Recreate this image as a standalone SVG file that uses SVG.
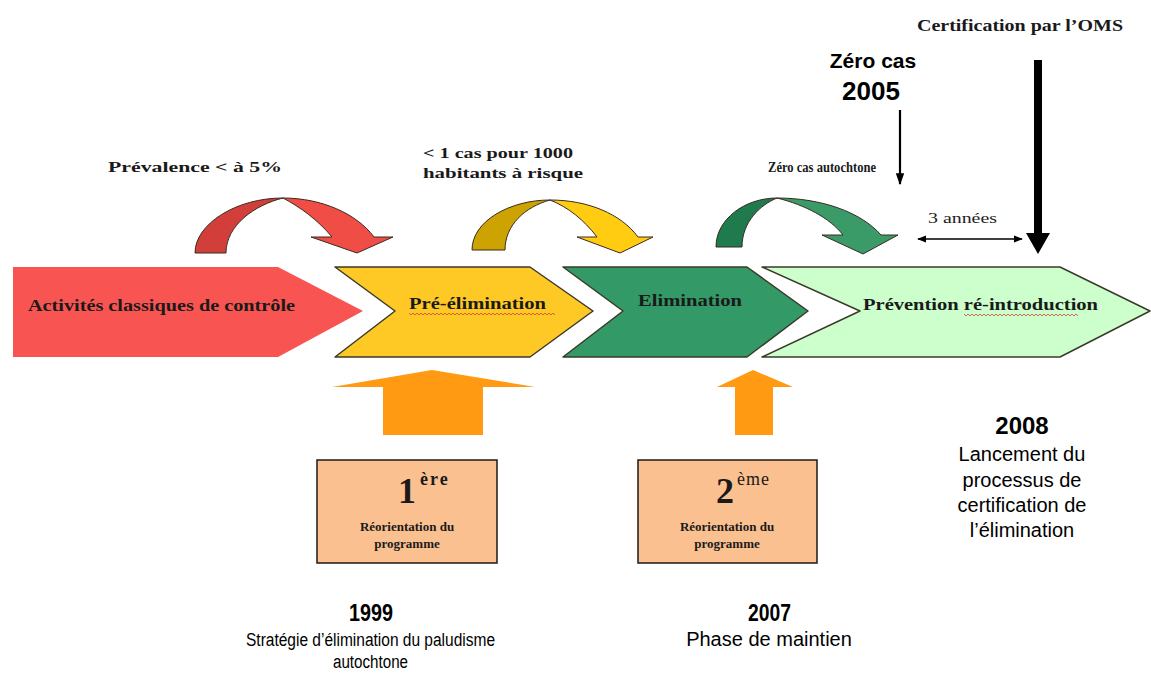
<svg xmlns="http://www.w3.org/2000/svg" width="1151" height="681" viewBox="0 0 1151 681">
<defs>
<style>
.lbl{font-family:"Liberation Serif","Times New Roman",serif;font-weight:bold;fill:#1a1a1a}
.sans{font-family:"Liberation Sans",Arial,sans-serif;fill:#000}
.b{font-weight:bold}
.edge{stroke:#3a3a2a;stroke-width:1.5;stroke-linejoin:round}
.curve{stroke:#3a2a20;stroke-width:1;stroke-linejoin:round}
.box{fill:#fac090;stroke:#1a1a1a;stroke-width:1.5}
.up{fill:#ff9a12}
.wavy{fill:none;stroke:#d04040;stroke-width:0.8}
</style>
<marker id="ah" viewBox="0 0 10 10" refX="9" refY="5" markerWidth="9" markerHeight="9" orient="auto-start-reverse" markerUnits="userSpaceOnUse">
<path d="M0,1 L10,5 L0,9 Z" fill="#000"/>
</marker>
<marker id="ahb" viewBox="0 0 10 10" refX="9" refY="5" markerWidth="12" markerHeight="12" orient="auto" markerUnits="userSpaceOnUse">
<path d="M0,1.5 L10,5 L0,8.5 Z" fill="#000"/>
</marker>
</defs>
<rect width="1151" height="681" fill="#fff"/>

<g id="phase-controle">
<path d="M13,267 L278,267 L363,311 L278,357 L13,357 Z" fill="#f75452"/>
<text class="lbl" x="28" y="311" font-size="17" textLength="267" lengthAdjust="spacingAndGlyphs">Activités classiques de contrôle</text>
</g>
<g id="phase-pre-elimination">
<path class="edge" d="M335,267 L530,267 L593,311 L530,357 L335,357 L395,311 Z" fill="#ffc925"/>
<text class="lbl" x="409" y="309" font-size="17" textLength="137" lengthAdjust="spacingAndGlyphs">Pré-élimination</text>
<path class="wavy" d="M409,313 l2,2 l2,-2 l2,2 l2,-2 l2,2 l2,-2 l2,2 l2,-2 l2,2 l2,-2 l2,2 l2,-2 l2,2 l2,-2 l2,2 l2,-2 l2,2 l2,-2 l2,2 l2,-2 l2,2 l2,-2 l2,2 l2,-2 l2,2 l2,-2 l2,2 l2,-2 l2,2 l2,-2 l2,2 l2,-2 l2,2 l2,-2 l2,2 l2,-2 l2,2 l2,-2 l2,2 l2,-2 l2,2 l2,-2 l2,2 l2,-2 l2,2 l2,-2 l2,2 l2,-2 l2,2 l2,-2 l2,2 l2,-2 l2,2 l2,-2 l2,2 l2,-2 l2,2 l2,-2 l2,2 l2,-2 l2,2 l2,-2 l2,2 l2,-2 l2,2 l2,-2 l2,2 l2,-2 l2,2 l2,-2 l2,2 l2,-2 l2,2"/>
</g>
<g id="phase-elimination">
<path class="edge" d="M563,267 L747,267 L808,311 L747,357 L563,357 L623,311 Z" fill="#339966"/>
<text class="lbl" x="638" y="306" font-size="17" textLength="104" lengthAdjust="spacingAndGlyphs">Elimination</text>
</g>
<g id="phase-prevention">
<path class="edge" d="M762,267 L1060,267 L1150,311 L1060,357 L762,357 L860,311 Z" fill="#ccffcc"/>
<text class="lbl" x="863" y="310" font-size="17" textLength="235" lengthAdjust="spacingAndGlyphs">Prévention ré-introduction</text>
<path class="wavy" d="M964,314 l2,2 l2,-2 l2,2 l2,-2 l2,2 l2,-2 l2,2 l2,-2 l2,2 l2,-2 l2,2 l2,-2 l2,2 l2,-2 l2,2 l2,-2 l2,2 l2,-2 l2,2 l2,-2 l2,2 l2,-2 l2,2 l2,-2 l2,2 l2,-2 l2,2 l2,-2 l2,2 l2,-2 l2,2 l2,-2 l2,2 l2,-2 l2,2 l2,-2 l2,2 l2,-2 l2,2 l2,-2 l2,2 l2,-2 l2,2 l2,-2 l2,2 l2,-2 l2,2 l2,-2 l2,2 l2,-2 l2,2 l2,-2 l2,2 l2,-2 l2,2 l2,-2 l2,2"/>
</g>

<g id="curve-red">
<path class="curve" d="M195,253 C195,224 236,198 283,198 C255,205 226,225 226,253 Z" fill="#d23f3a"/>
<path class="curve" d="M283,198 C322,198 357,214 374,237 L393,237 L357,253 L311,237 L332,237 C318,220 300,207 283,198 Z" fill="#ef4d45"/>
<text class="lbl" x="108" y="172" font-size="14" textLength="174" lengthAdjust="spacingAndGlyphs">Prévalence &lt; à 5%</text>
</g>
<g id="curve-yellow">
<path class="curve" d="M472,250 C472,221 510,200 550,200 C525,207 505,225 505,250 Z" fill="#cca300"/>
<path class="curve" d="M550,200 C588,200 621,214 638,237 L653,237 L620,253 L577,237 L597,237 C584,220 568,207 550,200 Z" fill="#ffcc11"/>
<text class="lbl" x="423" y="158" font-size="14" textLength="150" lengthAdjust="spacingAndGlyphs">&lt; 1 cas pour 1000</text>
<text class="lbl" x="423" y="178" font-size="14" textLength="160" lengthAdjust="spacingAndGlyphs">habitants à risque</text>
</g>
<g id="curve-green">
<path class="curve" d="M716,247 C716,219 745,198 777,198 C760,205 742,222 742,247 Z" fill="#1f7a4d"/>
<path class="curve" d="M777,198 C821,198 861,212 881,235 L898,235 L863,254 L822,235 L843,235 C830,218 805,205 777,198 Z" fill="#3a9a68"/>
<text class="lbl" x="768" y="172" font-size="15" textLength="108" lengthAdjust="spacingAndGlyphs">Zéro cas autochtone</text>
</g>

<g id="zero-cas">
<text class="sans b" x="873" y="68" font-size="21" text-anchor="middle">Zéro cas</text>
<text class="sans b" x="871" y="100" font-size="26" text-anchor="middle">2005</text>
</g>
<g id="certification">
<text class="lbl" x="917" y="31" font-size="17" textLength="206" lengthAdjust="spacingAndGlyphs">Certification par l’OMS</text>
</g>
<g id="trois-annees">
<text x="928" y="223" font-family="Liberation Serif, Times New Roman, serif" font-size="15" fill="#222" textLength="69" lengthAdjust="spacingAndGlyphs">3 années</text>
</g>

<g id="connectors">
<line x1="900" y1="110" x2="900" y2="184" stroke="#000" stroke-width="2.2" marker-end="url(#ahb)"/>
<line x1="918" y1="239" x2="1022" y2="239" stroke="#000" stroke-width="1.6" marker-start="url(#ah)" marker-end="url(#ah)"/>
<path d="M1034,60 L1042,60 L1042,233 L1050,233 L1038,254 L1026,233 L1034,233 Z" fill="#000"/>
<path class="up" d="M332,387 L432,370 L535,387 L483,387 L483,435 L383,435 L383,387 Z"/>
<path class="up" d="M717,387 L753,370 L793,387 L773,387 L773,435 L735,435 L735,387 Z"/>
</g>

<g id="reorientation-1">
<rect class="box" x="317" y="460" width="180" height="103"/>
<text class="lbl" x="398" y="503"><tspan font-size="36">1</tspan><tspan font-size="18" dx="4" dy="-18" letter-spacing="2">ère</tspan></text>
<text class="lbl" x="407" y="531" font-size="13" text-anchor="middle">Réorientation du</text>
<text class="lbl" x="407" y="548" font-size="13" text-anchor="middle">programme</text>
</g>
<g id="reorientation-2">
<rect class="box" x="638" y="460" width="179" height="103"/>
<text class="lbl" x="716" y="503"><tspan font-size="36">2</tspan><tspan font-size="18" dx="3" dy="-18" letter-spacing="1" font-weight="normal">ème</tspan></text>
<text class="lbl" x="727" y="531" font-size="13" text-anchor="middle">Réorientation du</text>
<text class="lbl" x="727" y="548" font-size="13" text-anchor="middle">programme</text>
</g>

<g id="jalon-1999">
<text class="sans b" x="349" y="621" font-size="23" textLength="44" lengthAdjust="spacingAndGlyphs">1999</text>
<text class="sans" x="246" y="646" font-size="18" textLength="249" lengthAdjust="spacingAndGlyphs">Stratégie d’élimination du paludisme</text>
<text class="sans" x="333" y="668" font-size="18" textLength="75" lengthAdjust="spacingAndGlyphs">autochtone</text>
</g>
<g id="jalon-2007">
<text class="sans b" x="748" y="621" font-size="23" textLength="43" lengthAdjust="spacingAndGlyphs">2007</text>
<text class="sans" x="769" y="646" font-size="20" text-anchor="middle">Phase de maintien</text>
</g>
<g id="jalon-2008">
<text class="sans b" x="1022" y="434" font-size="24" text-anchor="middle">2008</text>
<text class="sans" x="1022" y="461" font-size="20" text-anchor="middle">Lancement du</text>
<text class="sans" x="1022" y="487" font-size="20" text-anchor="middle">processus de</text>
<text class="sans" x="1022" y="512" font-size="20" text-anchor="middle">certification de</text>
<text class="sans" x="1022" y="537" font-size="20" text-anchor="middle">l’élimination</text>
</g>
</svg>
